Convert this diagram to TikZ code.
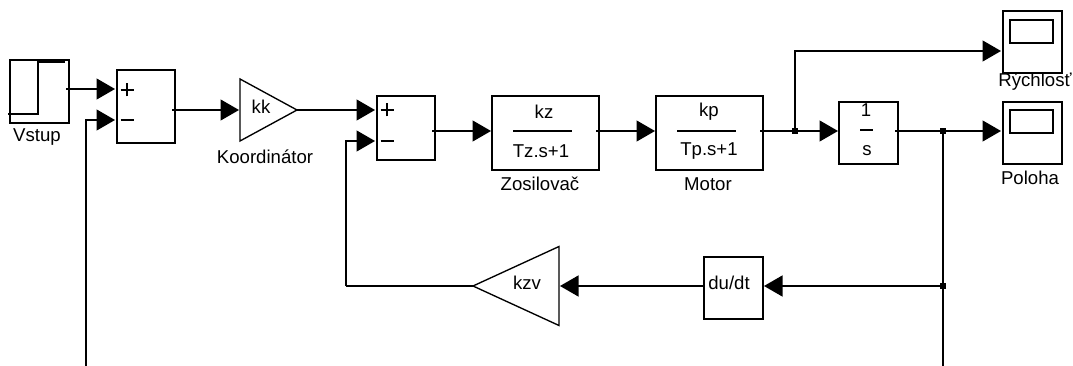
\documentclass[tikz,border=0pt]{standalone}
\usepackage{fontspec}
\setmainfont{Liberation Sans}
\usetikzlibrary{arrows.meta,shapes.geometric}
\tikzset{
  x=1pt,y=-1pt,
  line width=1.35pt,
  blockbox/.style={draw,rectangle,inner sep=0pt,outer sep=0pt,line width=1.35pt},
  gainbox/.style={draw,isosceles triangle,isosceles triangle stretches=true,inner sep=0pt,outer sep=0pt,line width=1.35pt},
  txt/.style={font=\fontsize{18.6}{19}\selectfont,inner sep=0pt,outer sep=0pt},
  sig/.style={-{Triangle[length=18.5pt,width=21pt]},shorten >=1pt,line width=1.35pt},
  wire/.style={line width=1.35pt},
  dotj/.style={fill,rectangle,minimum size=5.5pt,inner sep=0pt,outer sep=0pt}
}
\newcommand{\blk}[6]{\node[blockbox,minimum width=#4pt-#2pt,minimum height=#5pt-#3pt] (#1) at ({(#2+#4)/2},{(#3+#5)/2}) {#6};}
\begin{document}
\begin{tikzpicture}
\useasboundingbox (0,0) rectangle (1073,366);
% blocks
\blk{vstup}{10}{60}{69}{123}{}
\blk{suma}{117}{70}{175}{143}{}
\blk{sumb}{377}{96}{435}{160}{}
\blk{tfa}{492}{96}{599}{170}{}
\blk{tfb}{656}{96}{763}{170}{}
\blk{integ}{839}{102}{898}{164}{}
\blk{scopea}{1003}{11}{1062}{73}{}
\blk{scopeb}{1003}{102}{1062}{164}{}
\blk{scopeai}{1010}{20}{1053}{43}{}
\blk{scopebi}{1010}{110}{1053}{133}{}
\blk{deriv}{704}{257}{763}{319}{}
\node[gainbox,minimum width=62pt,minimum height=57pt,anchor=apex] (kk) at (297,110) {};
\node[gainbox,shape border rotate=180,minimum width=79pt,minimum height=86pt,anchor=apex] (kzv) at (473,286) {};
% step glyph
\coordinate (stepa) at (8,114);
\coordinate (stepb) at (38,114);
\coordinate (stepc) at (38,62);
\coordinate (stepd) at (65,62);
\draw[wire] (stepa) -- (stepb) -- (stepc) -- (stepd);
% texts
\node[txt] (lvstup) at (37,137) {Vstup};
\node[txt] (lkoord) at (265,157) {Koordinátor};
\node[txt] (lkk) at (261,107) {kk};
\node[txt] (lzos) at (540,184) {Zosilovač};
\node[txt] (lmot) at (708,184) {Motor};
\node[txt] (lryc) at (1035,82) {Rýchlosť};
\node[txt] (lpol) at (1030,178) {Poloha};
\node[txt] (lkz) at (544,112) {kz};
\node[txt] (ltz) at (541,151) {Tz.s+1};
\node[txt] (lkp) at (709,112) {kp};
\node[txt] (ltp) at (709,151) {Tp.s+1};
\node[txt] (lone) at (866,110) {1};
\node[txt] (ls) at (867,151) {s};
\node[txt] (lkzv) at (527,283) {kzv};
\node[txt] (ldu) at (729,283) {du/dt};
% fraction bars
\coordinate (fa1) at (513,131); \coordinate (fa2) at (572,131);
\coordinate (fb1) at (677,131); \coordinate (fb2) at (736,131);
\coordinate (fc1) at (860,130); \coordinate (fc2) at (873,130);
\draw[wire] (fa1) -- (fa2);
\draw[wire] (fb1) -- (fb2);
\draw[wire] (fc1) -- (fc2);
% sum signs
\coordinate (pa) at (127,90); \coordinate (ma) at (127,120);
\coordinate (pb) at (387,110); \coordinate (mb) at (387,141);
\draw[wire] ([xshift=-6.5pt]pa) -- ([xshift=6.5pt]pa) ([yshift=-6.5pt]pa) -- ([yshift=6.5pt]pa);
\draw[wire] ([xshift=-6.5pt]ma) -- ([xshift=6.5pt]ma);
\draw[wire] ([xshift=-6.5pt]pb) -- ([xshift=6.5pt]pb) ([yshift=-6.5pt]pb) -- ([yshift=6.5pt]pb);
\draw[wire] ([xshift=-6.5pt]mb) -- ([xshift=6.5pt]mb);
% ports
\coordinate (vout) at (66,89);
\coordinate (sain) at (116,89);
\coordinate (samin) at (116,120);
\coordinate (saout) at (172,110);
\coordinate (sbin) at (376,110);
\coordinate (sbmin) at (376,141);
\coordinate (sbout) at (432,131);
\coordinate (aout) at (596,131);
\coordinate (bout) at (760,131);
\coordinate (fbl) at (86,366);
\coordinate (fbr) at (943,366);
\coordinate (velout) at (1002,51);
\coordinate (poin) at (1002,131);
\coordinate (fbcorner) at (346,286);
\node[dotj] (ja) at (795,131) {};
\node[dotj] (jb) at (943,131) {};
\node[dotj] (jc) at (943,286) {};
% connectors
\draw[sig] (vout) -- (sain);
\draw[sig] (fbl) |- (samin);
\draw[sig] (saout) -- (kk.west |- saout);
\draw[sig] (kk.apex) -- (sbin);
\draw[sig] (sbout) -- (tfa.west |- sbout);
\draw[sig] (aout) -- (tfb.west |- aout);
\draw[wire] (bout) -- (ja.center);
\draw[sig] (ja.center) -- (integ.west |- ja);
\draw[sig] (ja.center) |- (velout);
\draw[wire] ([xshift=-3pt]integ.east |- jb) -- (jb.center);
\draw[sig] (jb.center) -- (poin);
\draw[wire] (jb.center) -- (fbr);
\draw[sig] (jc.center) -- (deriv.east |- jc);
\draw[sig] (deriv.west |- jc) -- (kzv.east |- jc);
\draw[wire] (kzv.apex) -- (fbcorner);
\draw[sig] (fbcorner) |- (sbmin);
\end{tikzpicture}
\end{document}
